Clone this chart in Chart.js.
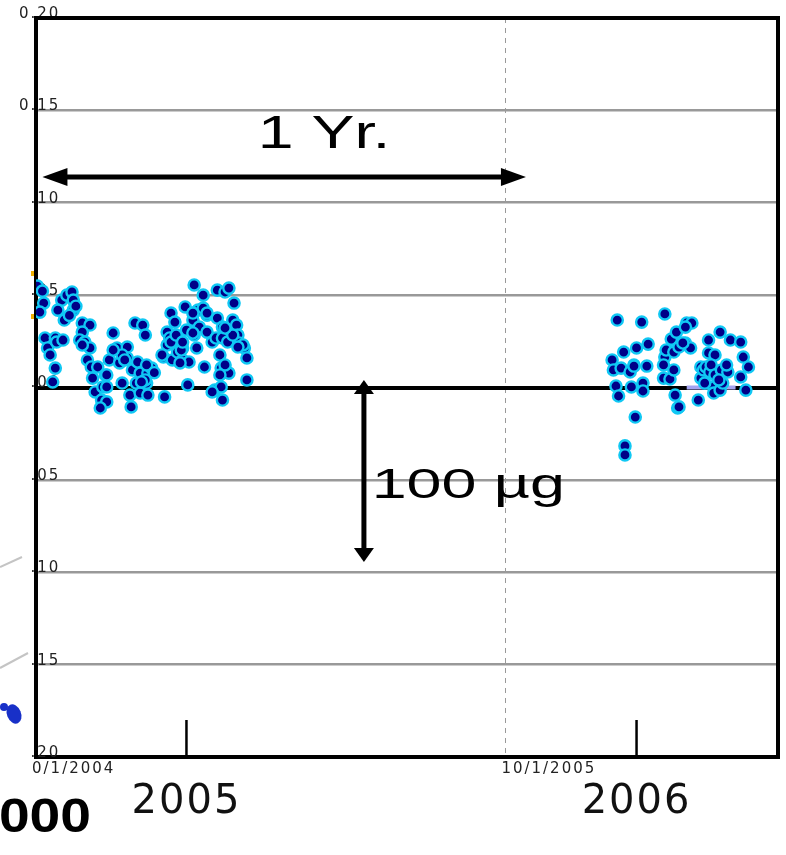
<!DOCTYPE html>
<html>
<head>
<meta charset="utf-8">
<script src="https://cdn.jsdelivr.net/npm/chart.js@4.4.1/dist/chart.umd.min.js"></script>
<style>
  html, body { margin: 0; padding: 0; background: #fff; }
  #c { display: block; }
</style>
</head>
<body>
<canvas id="c" width="786" height="855"></canvas>
<script>
const daysA = [1,5,6,3,7,9,11,15,16,21,15,13,20,24,28,17,22,29,29,36,
  42,36,34,38,42,40,43,44,46,51,52,54,48,57,60,63,65,67,71,71,
  73,74,77,83,85,75,79,81,78,81,87,86,87,90,85,100,99,102,102,105,
  108,104,106,110,110,114,116,117,114,119,118,123,130,126,122,130,127,123,125,131,
  133,133,137,139,141,147,150,141,140,145,145,149,154,153,156,157,158,162,164,143,
  144,150,144,145,137,164,55,55,55,67,69,60,82,86,98,105,109,112,113,122,
  133,122,114,147,153,161,157,147,143,36,50,26,31,92];
const valuesA = [0.0549,0.0522,0.0457,0.0408,0.0268,0.0214,0.0176,0.0268,0.0246,0.0257,
  0.0105,0.0030,0.0473,0.0500,0.0517,0.0419,0.0365,0.0419,0.0473,0.0349,
  0.0338,0.0300,0.0257,0.0246,0.0214,0.0149,0.0111,0.0051,-0.0024,-0.0068,
  0.0003,0.0068,0.0111,0.0149,0.0295,0.0214,0.0133,0.0024,0.0219,0.0160,
  -0.0041,-0.0105,0.0349,0.0338,0.0284,0.0095,0.0138,0.0078,0.0024,-0.0030,
  -0.0041,0.0024,0.0078,0.0105,0.0041,-0.0051,0.0165,0.0230,0.0300,0.0403,
  0.0354,0.0268,0.0149,0.0257,0.0192,0.0149,0.0436,0.0311,0.0214,0.0138,
  0.0014,0.0555,0.0500,0.0419,0.0365,0.0430,0.0327,0.0284,0.0214,0.0111,
  0.0392,0.0300,0.0246,-0.0014,0.0527,0.0517,0.0538,0.0376,0.0268,0.0327,
  0.0268,0.0246,0.0457,0.0365,0.0338,0.0284,0.0241,0.0214,0.0160,0.0176,
  0.0105,0.0078,0.0003,-0.0068,-0.0024,0.0041,0.0068,0.0003,-0.0078,0.0176,
  0.0149,0.0203,0.0030,0.0122,0.0176,0.0246,0.0284,0.0133,0.0203,0.0403,
  0.0403,0.0295,0.0246,0.0122,0.0284,0.0230,0.0219,0.0322,0.0068,0.0230,
  -0.0111,0.0390,0.0440,0.0080];

const daysB = [452,471,489,448,449,455,457,451,453,462,465,463,472,472,467,476,475,466,458,458,
  489,490,488,488,493,496,494,498,506,510,496,500,505,509,497,499,515,523,523,528,
  517,517,519,521,524,525,528,527,527,532,534,533,538,537,532,540,548,550,554,548,
  552,531,520,503,505,500,465];
const valuesB = [0.0365,0.0354,0.0398,0.0149,0.0095,0.0105,0.0192,0.0008,-0.0046,0.0084,
  0.0122,0.0003,0.0024,-0.0019,0.0214,0.0235,0.0116,-0.0160,-0.0316,-0.0365,
  0.0165,0.0203,0.0122,0.0051,0.0046,0.0095,0.0262,0.0300,0.0349,0.0349,
  0.0192,0.0219,0.0241,0.0214,-0.0041,-0.0111,-0.0068,0.0257,0.0187,0.0176,
  0.0111,0.0051,0.0095,0.0111,0.0084,0.0122,0.0068,0.0003,-0.0030,-0.0014,
  0.0024,0.0095,0.0084,0.0122,0.0300,0.0257,0.0246,0.0165,0.0111,0.0057,
  -0.0014,0.0041,0.0024,0.0241,0.0327,-0.0105,0.0116];

// small lavender bar sitting on the zero line
const barDays = [506, 544];
const barValues = [0, 0];

const yTickValues = [0.2, 0.15, 0.1, 0.05, 0, -0.05, -0.1, -0.15, -0.2];
const yTickLabels = ['0.20', '0.15', '.10', '.05', '.00', '.05', '.10', '.15', '.20'];
const xTickDays = [0, 365];
const xTickLabels = ['0/1/2004', '10/1/2005'];
const yearTickDays = [117, 467];
const yearLabels = ['2005', '2006'];

const pts = (xs, ys) => xs.map((d, i) => ({ x: d, y: ys[i] }));

function arrow(ctx, x1, y1, x2, y2, head, half, w) {
  const ang = Math.atan2(y2 - y1, x2 - x1);
  const len = Math.hypot(x2 - x1, y2 - y1);
  ctx.save();
  ctx.translate(x1, y1);
  ctx.rotate(ang);
  ctx.lineWidth = w;
  ctx.beginPath();
  ctx.moveTo(head - 1, 0);
  ctx.lineTo(len - head + 1, 0);
  ctx.stroke();
  ctx.beginPath();
  ctx.moveTo(0, 0); ctx.lineTo(head, -half); ctx.lineTo(head, half);
  ctx.closePath(); ctx.fill();
  ctx.beginPath();
  ctx.moveTo(len, 0); ctx.lineTo(len - head, -half); ctx.lineTo(len - head, half);
  ctx.closePath(); ctx.fill();
  ctx.restore();
}

function wideText(ctx, str, px, py, font, sx, align) {
  ctx.save();
  ctx.font = font;
  ctx.textAlign = align;
  ctx.textBaseline = 'alphabetic';
  ctx.translate(px, py);
  ctx.scale(sx, 1);
  ctx.fillText(str, 0, 0);
  ctx.restore();
}

const slideMarks = {
  id: 'slideMarks',
  beforeDraw(chart) {
    chart.ctx.letterSpacing = '2px';
  },
  beforeDatasetsDraw(chart) {
    const { ctx, chartArea: a, scales: { x } } = chart;
    ctx.save();
    ctx.strokeStyle = '#000';
    ctx.lineWidth = 4;
    ctx.beginPath();
    ctx.moveTo(a.left - 2, a.top);
    ctx.lineTo(a.right, a.top);
    ctx.lineTo(a.right, a.bottom + 2);
    ctx.stroke();
    ctx.lineWidth = 2.5;
    yearTickDays.forEach(d => {
      const px = x.getPixelForValue(d);
      ctx.beginPath();
      ctx.moveTo(px, a.bottom);
      ctx.lineTo(px, a.bottom - 37);
      ctx.stroke();
    });
    ctx.restore();
  },
  afterDatasetsDraw(chart) {
    const { ctx, scales: { x, y } } = chart;
    ctx.save();
    ctx.letterSpacing = '0px';
    ctx.fillStyle = '#000';
    ctx.strokeStyle = '#000';
    arrow(ctx, x.getPixelForValue(5), y.getPixelForValue(0.114),
      x.getPixelForValue(381), y.getPixelForValue(0.114), 25, 9, 5);
    arrow(ctx, x.getPixelForValue(255), y.getPixelForValue(0.004),
      x.getPixelForValue(255), y.getPixelForValue(-0.0944), 14, 10, 5);
    wideText(ctx, '1 Yr.', x.getPixelForValue(224), y.getPixelForValue(0.1296),
      '46px "Liberation Sans", Arial, sans-serif', 1.4, 'center');
    wideText(ctx, '100 \u00b5g', x.getPixelForValue(261), y.getPixelForValue(-0.0598),
      '43px "Liberation Sans", Arial, sans-serif', 1.46, 'left');
    ctx.restore();
  },
  afterDraw(chart) {
    const ctx = chart.ctx;
    ctx.save();
    ctx.letterSpacing = '0px';
    // bits of the neighbouring slide chart at the left edge
    ctx.strokeStyle = '#c4c4c4';
    ctx.lineWidth = 2;
    ctx.beginPath(); ctx.moveTo(0, 567); ctx.lineTo(22, 557); ctx.stroke();
    ctx.beginPath(); ctx.moveTo(0, 668); ctx.lineTo(28, 653); ctx.stroke();
    ctx.fillStyle = '#1830c8';
    ctx.beginPath(); ctx.ellipse(14, 714, 7, 10, -0.4, 0, Math.PI * 2); ctx.fill();
    ctx.beginPath(); ctx.arc(4, 707, 4, 0, Math.PI * 2); ctx.fill();
    ctx.fillStyle = '#f0b000';
    ctx.fillRect(31, 271, 3, 5);
    ctx.fillRect(31, 314, 3, 5);
    ctx.fillStyle = '#000';
    wideText(ctx, '2000', 91, 832, 'bold 48px "Liberation Sans", Arial, sans-serif', 1.15, 'right');
    ctx.restore();
    ctx.letterSpacing = '0px';
  }
};

new Chart(document.getElementById('c'), {
  type: 'scatter',
  data: {
    datasets: [
      {
        data: pts(daysA, valuesA),
        backgroundColor: '#000088',
        borderColor: '#10c8f4',
        borderWidth: 2.4,
        pointRadius: 5.6,
        order: 1
      },
      {
        data: pts(daysB, valuesB),
        backgroundColor: '#000088',
        borderColor: '#10c8f4',
        borderWidth: 2.4,
        pointRadius: 5.6,
        order: 1
      },
      {
        type: 'line',
        data: pts(barDays, barValues),
        borderColor: '#a4a4f0',
        borderWidth: 4,
        pointRadius: 0,
        order: 2
      }
    ]
  },
  options: {
    responsive: false,
    devicePixelRatio: 1,
    animation: false,
    layout: { padding: { top: 18, right: 6, left: 0, bottom: 0 } },
    plugins: { legend: { display: false }, tooltip: { enabled: false } },
    scales: {
      x: {
        type: 'linear',
        position: 'bottom',
        weight: 0,
        min: 0,
        max: 577,
        afterBuildTicks: s => { s.ticks = xTickDays.map(v => ({ value: v })); },
        afterFit: s => { s.height = 22; },
        ticks: {
          align: 'start',
          labelOffset: -4,
          padding: 3,
          maxRotation: 0,
          autoSkip: false,
          color: '#222',
          font: { family: 'DejaVu Sans', size: 15 },
          callback: (v, i) => xTickLabels[i]
        },
        grid: {
          drawTicks: false,
          color: ctx => (ctx.tick && ctx.tick.value === 365 ? '#999' : 'rgba(0,0,0,0)'),
          lineWidth: 1
        },
        border: { color: '#000', width: 4, dash: [5, 5] }
      },
      x2: {
        type: 'linear',
        position: 'bottom',
        weight: 1,
        min: 0,
        max: 577,
        afterBuildTicks: s => { s.ticks = yearTickDays.map(v => ({ value: v })); },
        afterFit: s => { s.height = 76; },
        ticks: {
          padding: 0,
          maxRotation: 0,
          autoSkip: false,
          color: '#111',
          font: { family: 'DejaVu Sans', size: 40 },
          callback: (v, i) => yearLabels[i]
        },
        grid: { display: false, drawTicks: false },
        border: { display: false }
      },
      y: {
        min: -0.2,
        max: 0.2,
        afterBuildTicks: s => { s.ticks = yTickValues.map(v => ({ value: v })); },
        afterFit: s => { s.width = 36; },
        ticks: {
          mirror: true,
          crossAlign: 'far',
          padding: -9,
          labelOffset: -4,
          color: '#222',
          font: { family: 'DejaVu Sans', size: 15 },
          callback: (v, i) => yTickLabels[i]
        },
        grid: {
          drawTicks: false,
          color: ctx => (ctx.tick && ctx.tick.value === 0 ? '#000' : '#999'),
          lineWidth: ctx => (ctx.tick && ctx.tick.value === 0 ? 4 : 2.5)
        },
        border: { color: '#000', width: 4 }
      }
    }
  },
  plugins: [slideMarks]
});
</script>
</body>
</html>
